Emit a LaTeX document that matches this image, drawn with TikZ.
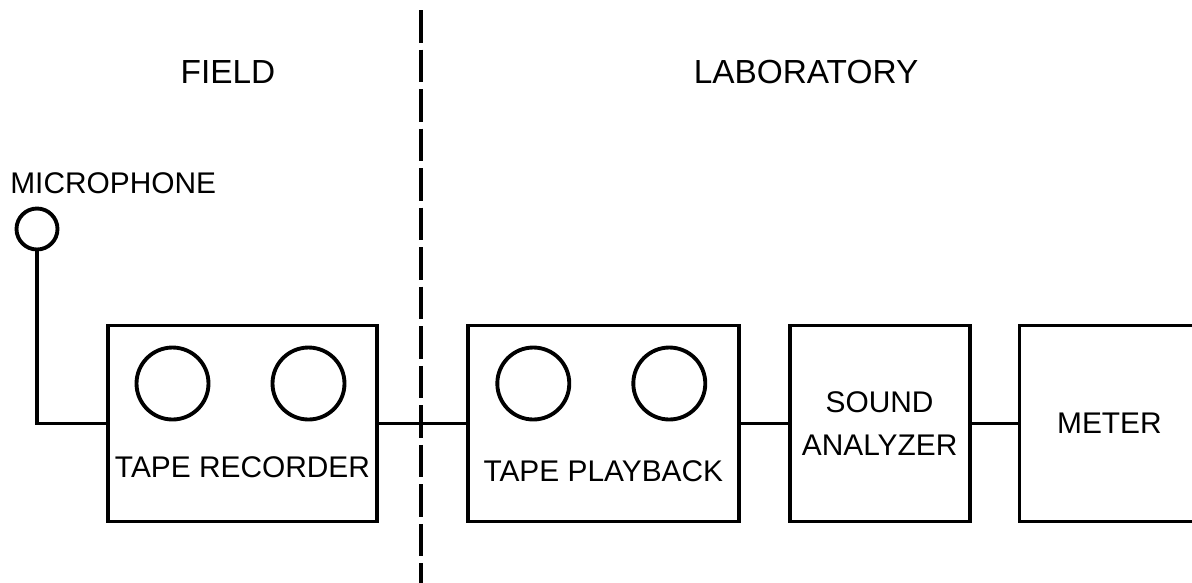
\documentclass[tikz,border=0pt]{standalone}
\usepackage{fontspec}
\setmainfont{Liberation Sans}
\usetikzlibrary{positioning}

\begin{document}
\begin{tikzpicture}[
				x=0.02cm, y=-0.02cm,
				node distance=1.74cm,
				every node/.style={
						font=\fontsize{17}{24}\selectfont,
						align=center,
						inner sep=0pt
					},
				unit/.style={draw, line width=2.2pt, minimum height=3.92cm},
				reel/.style={draw, circle, line width=2.2pt, minimum size=1.44cm},
				title/.style={font=\fontsize{19}{24}\selectfont},
				wire/.style={line width=2.2pt},
				divider/.style={line width=2.6pt, dash pattern=on 18.5pt off 4pt}
			]
			\useasboundingbox (0,0) rectangle (1192,582);
			\clip (0,0) rectangle (1192,582);

			\node[title] (field) at (228,72) {FIELD};
			\node[title] (lab) at (806,72) {LABORATORY};

			\node[draw, circle, line width=2.2pt, minimum size=0.82cm] (mic) at (37,229) {};
			\node[anchor=west] (miclabel) at (10,183) {MICROPHONE};

			\node[unit, minimum width=5.38cm] (rec) at (242.5,423.5) {};
			\node[unit, minimum width=5.42cm, right=of rec] (play) {};
			\node[unit, minimum width=3.6cm, right=0.94cm of play] (ana) {SOUND\\ANALYZER};
			\node[unit, minimum width=3.6cm, right=0.92cm of ana] (meter) {METER};

			\node[reel] (recl) at ([shift={(-70,-40)}]rec.center) {};
			\node[reel] (recr) at ([shift={(66,-40)}]rec.center) {};
			\node (rectext) at ([shift={(0,44)}]rec.center) {TAPE RECORDER};
			\node[reel] (playl) at ([shift={(-70,-40)}]play.center) {};
			\node[reel] (playr) at ([shift={(66,-40)}]play.center) {};
			\node (playtext) at ([shift={(0,48)}]play.center) {TAPE PLAYBACK};

			\draw[wire] (mic.south) |- (rec.west);
			\draw[wire] (rec) -- (play);
			\draw[wire] (play) -- (ana);
			\draw[wire] (ana) -- (meter);

			\coordinate (divtop) at (421,10);
			\coordinate (divbot) at (421,590);
			\draw[divider] (divtop) -- (divbot);
		\end{tikzpicture}
\end{document}
